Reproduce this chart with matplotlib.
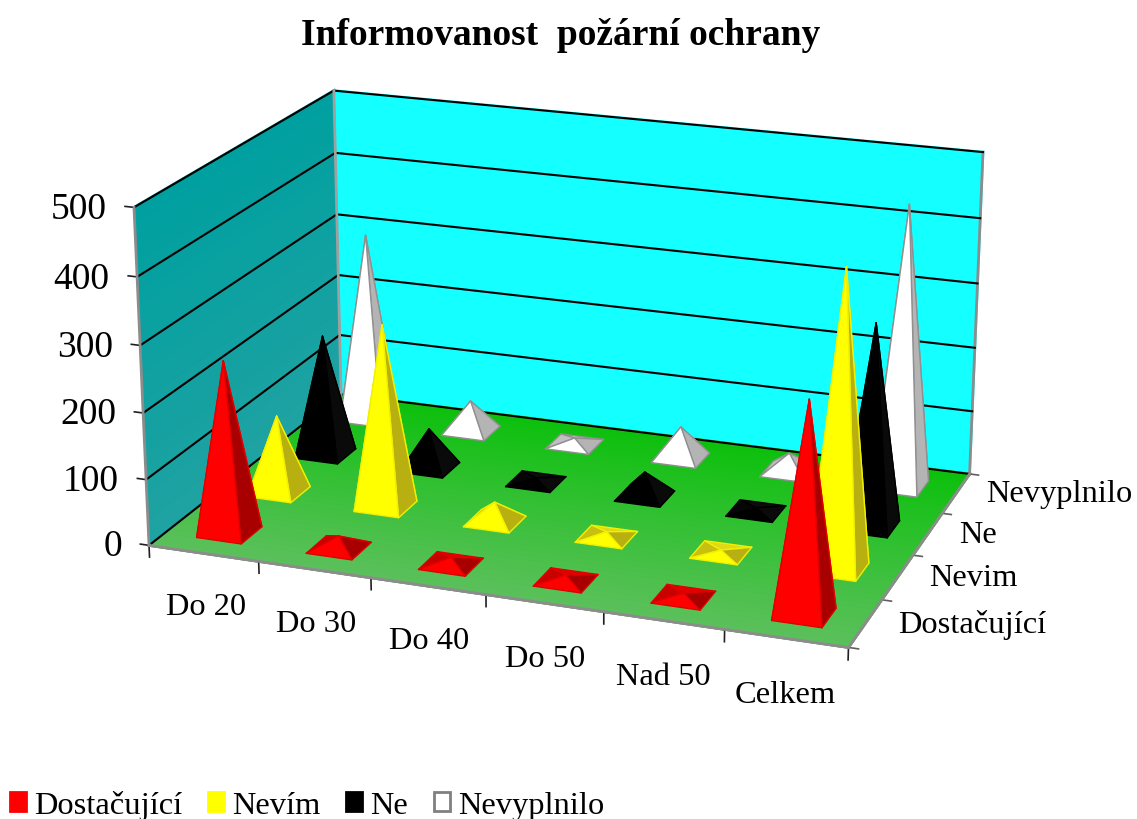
#3d pyramid chart, view fitted against the frame of the picture
import numpy as np
import matplotlib
matplotlib.use('Agg')
import matplotlib.pyplot as plt
from matplotlib.colors import to_rgb
from mpl_toolkits.mplot3d import proj3d
from mpl_toolkits.mplot3d.art3d import Poly3DCollection

plt.rcParams['font.family'] = ['Liberation Serif', 'DejaVu Serif']

groups = ['Do 20', 'Do 30', 'Do 40', 'Do 50', 'Nad 50', 'Celkem']
series = ['Dostačující', 'Nevím', 'Ne', 'Nevyplnilo']
depth_labels = ['Dostačující', 'Nevim', 'Ne', 'Nevyplnilo']
z_ticks = [0, 100, 200, 300, 400, 500]

dostacujici = [260, 18, 10, 8, 6, 309]
nevim = [119, 280, 30, 8, 4, 442]
ne = [189, 62, 6, 38, 5, 309]
nevyplnilo = [299, 49, 10, 50, 30, 436]
values = [dostacujici, nevim, ne, nevyplnilo]

# front, right, back, left faces
face_colors = [['#ff0000', '#a80000', '#e00000', '#c80000'],
               ['#ffff00', '#b8b010', '#e0d818', '#c8c010'],
               ['#000000', '#0a0a0a', '#0c0c0c', '#060606'],
               ['#ffffff', '#b4b4b4', '#d0d0d0', '#c0c0c0']]
edge_colors = ['#e00000', '#f0f000', '#000000', '#909090']
legend_edges = ['#ff0000', '#ffff00', '#000000', '#808080']

fig = plt.figure(figsize=(11.37, 8.2), dpi=100)
ax = fig.add_axes([0.0963, 0.01392, 0.7895, 1.0947], projection='3d')
ax.patch.set_alpha(0)
ax.computed_zorder = False
ax.set_proj_type('persp', focal_length=0.6869)
ax.view_init(elev=18.99, azim=-69.92)
ax.set_box_aspect((1, 0.656, 0.4868))
ax.set_xlim(0, 6, view_margin=0)
ax.set_ylim(0, 4, view_margin=0)
ax.set_zlim(0, 500, view_margin=0)

ax.set_xticks([])
ax.set_yticks([])
ax.set_zticks([])
for axis in [ax.xaxis, ax.yaxis, ax.zaxis]:
    axis.label.set_visible(False)
    axis.offsetText.set_visible(False)
    axis.line.set_color('#8c8c8c')
    axis.line.set_linewidth(2)
    axis.pane.set_edgecolor('#8c8c8c')
    axis.pane.set_linewidth(2)

ax.xaxis.set_pane_color('#10a0a0')
ax.yaxis.set_pane_color('#14ffff')
ax.zaxis.set_pane_color('#30c030')


def label(x, y, z, text, **kw):
    # put the text at the projected spot of a 3d point
    u, v, _ = proj3d.proj_transform(x, y, z, ax.get_proj())
    ax.text2D(u, v, text, transform=ax.transData, **kw)


# floor, green fades toward the front
front = np.array(to_rgb('#5cc05c'))
back = np.array(to_rgb('#0cc00c'))
edges = np.linspace(0, 4, 41)
for i in range(40):
    col = front + (back - front) * (i + 0.5) / 40
    strip = [[(0, edges[i], 0), (6, edges[i], 0), (6, edges[i + 1], 0), (0, edges[i + 1], 0)]]
    ax.add_collection3d(Poly3DCollection(strip, facecolors=[col], edgecolors=[col], linewidths=0.5, zorder=1))

# side wall fades a little too
wall_low = np.array(to_rgb('#20a2a2'))
wall_high = np.array(to_rgb('#00a0a0'))
heights = np.linspace(0, 500, 26)
for i in range(25):
    col = wall_low + (wall_high - wall_low) * (i + 0.5) / 25
    strip = [[(0, 0, heights[i]), (0, 4, heights[i]), (0, 4, heights[i + 1]), (0, 0, heights[i + 1])]]
    ax.add_collection3d(Poly3DCollection(strip, facecolors=[col], edgecolors=[col], linewidths=0.5, zorder=1))

# grid on both walls
for z in z_ticks:
    ax.plot([0, 0, 6], [0, 4, 4], [z, z, z], color='k', lw=1.5, zorder=1.5)
ax.plot([0, 6], [0, 0], [0, 0], color='#8c8c8c', lw=2, zorder=1.5)
ax.plot([6, 6], [0, 4], [0, 0], color='#8c8c8c', lw=2, zorder=1.5)
ax.plot([0, 0], [0, 0], [0, 500], color='#8c8c8c', lw=2, zorder=1.5)
ax.plot([0, 0], [4, 4], [0, 500], color='#a0a0a0', lw=2, zorder=1.5)

half = 0.205
order = 2
for s in range(3, -1, -1):
    for g in range(6):
        x = g + 0.5
        y = s + 0.5
        apex = (x, y, values[s][g])
        c = [(x - half, y - half, 0), (x + half, y - half, 0), (x + half, y + half, 0), (x - half, y + half, 0)]
        polys = [[c[0], c[1], apex], [c[1], c[2], apex], [c[2], c[3], apex], [c[3], c[0], apex]]
        pc = Poly3DCollection(polys, facecolors=face_colors[s], edgecolors=edge_colors[s], linewidths=1, zorder=order)
        ax.add_collection3d(pc)
        order += 1

# tick marks
for i in range(7):
    ax.plot([i, i], [0, 0], [0, -18], color='#202020', lw=1.2, zorder=1)
for i in range(5):
    ax.plot([6, 6.08], [i, i], [0, 0], color='#606060', lw=1.2, zorder=1)
for z in z_ticks:
    ax.plot([0, -0.08], [0, 0], [z, z], color='#202020', lw=1.2, zorder=1)
    label(-0.25, 0, z - 7, str(z), fontsize=27, ha='right', va='center')

for i, lab in enumerate(groups):
    label(i + 0.5, 0, -82, lab, fontsize=23.4, ha='center', va='center')
for i, lab in enumerate(depth_labels):
    label(6.265, i + 0.5, 6, lab, fontsize=23.4, ha='left', va='center')

fig.text(0.4933, 0.9565, 'Informovanost  požární ochrany', fontsize=27, fontweight='bold', ha='center', va='center')

handles = [plt.Rectangle((0, 0), 1, 1, fc=face_colors[i][0], ec=legend_edges[i], lw=2) for i in range(4)]
fig.legend(handles, series, loc='lower left', ncol=4, frameon=False, fontsize=23.4, bbox_to_anchor=(0.009, -0.0015),
           borderpad=0, borderaxespad=0, handlelength=0.5, handleheight=0.5, handletextpad=0.25, columnspacing=0.78)

fig.savefig('out.png', dpi=100)
